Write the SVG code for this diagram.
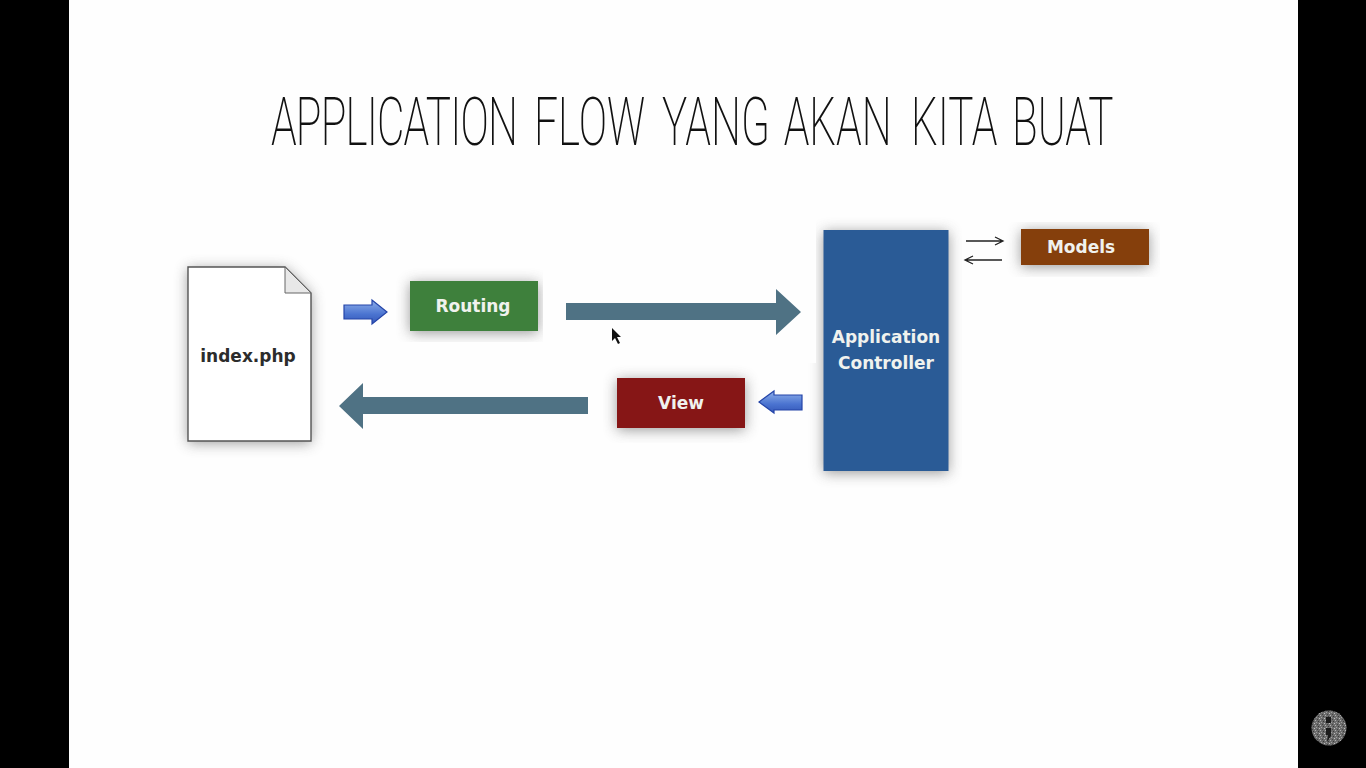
<svg xmlns="http://www.w3.org/2000/svg" width="1366" height="768" viewBox="0 0 1366 768">
<style>
.box{font-family:"DejaVu Sans","Liberation Sans",sans-serif;font-weight:700;font-size:17px;fill:#f0f2ee;text-anchor:middle}
.title{font-family:Roboto,"Liberation Sans",sans-serif;font-weight:200;font-size:66px;fill:#111}
.big{fill:#4f7284}
.blue{fill:url(#bl);stroke:#2444a8;stroke-width:1.2}
.thin{fill:none;stroke:#222;stroke-width:1.3}
.shade{fill:#555;opacity:.6;filter:url(#sh)}
</style>
<defs>
<linearGradient id="bl" x1="0" y1="0" x2="0" y2="1"><stop offset="0" stop-color="#8fb0ea"/><stop offset="0.6" stop-color="#4a73d0"/><stop offset="1" stop-color="#3558b8"/></linearGradient>
<filter id="sh" x="-30%" y="-40%" width="160%" height="180%"><feGaussianBlur stdDeviation="7"/></filter>
<pattern id="speck" width="5" height="5" patternUnits="userSpaceOnUse"><rect width="5" height="5" fill="#6c6c6c"/><rect x="0" y="0" width="1" height="1" fill="#b0b0b0"/><rect x="3" y="1" width="1" height="1" fill="#3a3a3a"/><rect x="1" y="2" width="1" height="1" fill="#a0a0a0"/><rect x="4" y="3" width="1" height="1" fill="#c0c0c0"/><rect x="2" y="4" width="1" height="1" fill="#444"/></pattern>
<clipPath id="cR"><rect x="396" y="266" width="147" height="76"/></clipPath>
<clipPath id="cM"><rect x="1004" y="222" width="156" height="55"/></clipPath>
<clipPath id="cV"><rect x="603" y="363" width="160" height="80"/></clipPath>
<clipPath id="cA"><path d="M816 215H962V490H806V363H816Z"/></clipPath>
</defs>
<rect width="1366" height="768" fill="#000"/>
<rect x="69" width="1229" height="768" fill="#fefefe"/>
<text class="title" transform="translate(271 145) scale(.64 1)"><tspan x="0" letter-spacing="-1.25">APPLICATION</tspan> <tspan x="411">FLOW</tspan> <tspan x="611">YANG</tspan> <tspan x="801">AKAN</tspan> <tspan x="1000">KITA</tspan> <tspan x="1158">BUAT</tspan></text>

<g id="connectors">
<path class="big" d="M566 303H776V289L801 312L776 335V320H566Z"/>
<path class="big" d="M588 397H363V383L339 406L363 429V414H588Z"/>
<path class="blue" d="M344 305H372V300L387 312L372 324V319H344Z"/>
<path class="blue" d="M802 395H774V391L759 402L774 413V410H802Z"/>
<path class="thin" d="M966 241H1002M995 237L1003 241L995 245"/>
<path class="thin" d="M1002 260H966M973 256L965 260L973 264"/>
</g>

<g id="index">
<path class="shade" d="M188 269H285L311 295V443H188Z"/>
<path d="M188 267H285L311 293V441H188Z" fill="#fff" stroke="#555" stroke-width="1.4"/>
<path d="M285 267V293H311Z" fill="#e8e8e8" stroke="#666" stroke-width="1"/>
<text class="box" x="248" y="362" style="fill:#2c2c2c">index.php</text>
</g>

<g id="routing">
<g clip-path="url(#cR)"><rect class="shade" x="410" y="283" width="128" height="50"/></g>
<rect x="410" y="281" width="128" height="50" fill="#3e803c"/>
<text class="box" x="473" y="312">Routing</text>
</g>

<g id="controller">
<g clip-path="url(#cA)"><rect class="shade" x="823.500" y="232" width="125" height="241"/></g>
<rect x="823.500" y="230" width="125" height="241" fill="#2a5b96"/>
<text class="box" x="886" y="343">Application</text>
<text class="box" x="886" y="369">Controller</text>
</g>

<g id="models">
<g clip-path="url(#cM)"><rect class="shade" x="1021" y="231" width="128" height="36"/></g>
<rect x="1021" y="229" width="128" height="36" fill="#853f0c"/>
<text class="box" x="1081" y="253">Models</text>
</g>

<g id="view">
<g clip-path="url(#cV)"><rect class="shade" x="617" y="380" width="128" height="50"/></g>
<rect x="617" y="378" width="128" height="50" fill="#861616"/>
<text class="box" x="681" y="409">View</text>
</g>

<path id="cursor" d="M612 328V341L615 338L618 344L620 343L617 337L621 337Z" fill="#111"/>

<g id="badge">
<circle cx="1329" cy="728" r="17.500" fill="url(#speck)"/>
<rect x="1326" y="717" width="5" height="6" fill="#1a1a1a"/>
<path d="M1326 728H1331V736L1327 742L1328 735H1326Z" fill="#1a1a1a"/>
</g>
</svg>
